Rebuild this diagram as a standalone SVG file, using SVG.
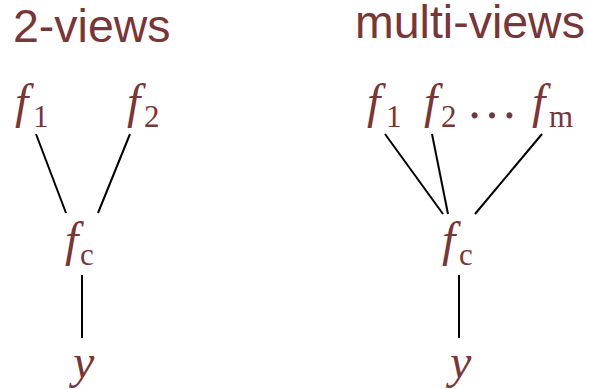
<svg xmlns="http://www.w3.org/2000/svg" width="589" height="389" viewBox="0 0 589 389">
<style>
.t{font-family:"Liberation Sans",Arial,sans-serif;font-size:46.5px;fill:#77363a}
.m{font-family:"Liberation Serif","Times New Roman",serif;font-style:italic;font-size:48px;fill:#77363a}
.s{font-family:"Liberation Serif","Times New Roman",serif;font-size:31px;fill:#77363a}
.c line{stroke:#000;stroke-width:2;fill:none}
</style>
<rect width="589" height="389" fill="#fff"/>
<text class="t" x="13" y="42">2-views</text>
<text class="t" x="355" y="38">multi-views</text>
<g id="L_f1"><text class="m" x="15" y="118">f</text><text class="s" x="33" y="127">1</text></g>
<g id="L_f2"><text class="m" x="127" y="118">f</text><text class="s" x="144" y="127">2</text></g>
<g id="L_fc"><text class="m" x="65" y="256">f</text><text class="s" x="80" y="265">c</text></g>
<g id="L_y"><text class="m" x="73" y="378">y</text></g>
<g id="R_f1"><text class="m" x="367" y="118">f</text><text class="s" x="386" y="127">1</text></g>
<g id="R_f2"><text class="m" x="424" y="118">f</text><text class="s" x="441" y="127">2</text></g>
<g id="R_dots"><text class="s" x="466" y="118" style="font-size:52px">…</text></g>
<g id="R_fm"><text class="m" x="532" y="118">f</text><text class="s" x="549" y="127">m</text></g>
<g id="R_fc"><text class="m" x="442" y="256">f</text><text class="s" x="459" y="265">c</text></g>
<g id="R_y"><text class="m" x="450" y="378">y</text></g>
<g class="c" id="connectors">
<line x1="36" y1="134" x2="66" y2="213"/>
<line x1="130" y1="134" x2="98" y2="213"/>
<line x1="82" y1="275" x2="82" y2="338"/>
<line x1="385" y1="134" x2="443" y2="214"/>
<line x1="432" y1="134" x2="448" y2="214"/>
<line x1="542" y1="134" x2="475" y2="214"/>
<line x1="459" y1="275" x2="459" y2="338"/>
</g>
</svg>
